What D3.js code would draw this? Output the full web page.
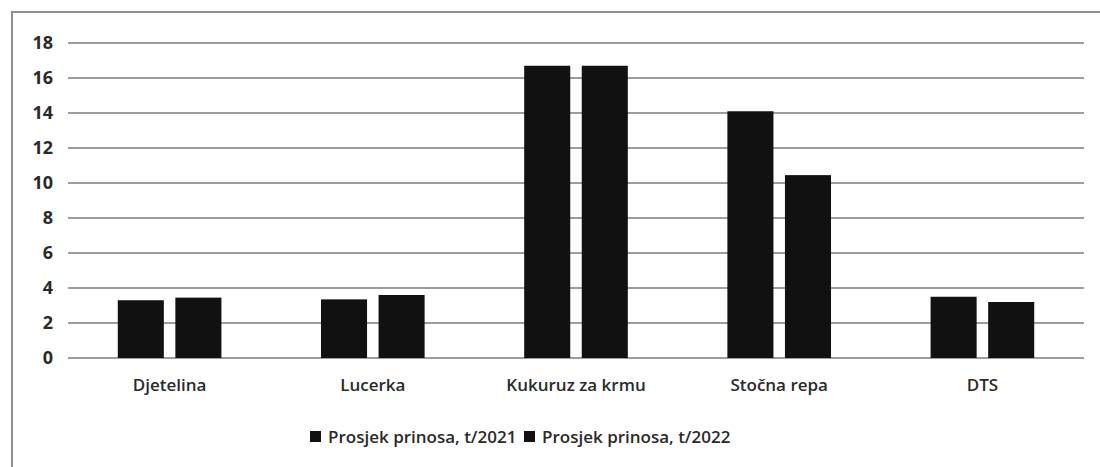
<!DOCTYPE html>
<html>
<head>
<meta charset="utf-8"/>
<title>Prosjek prinosa</title>
<script src="https://cdn.jsdelivr.net/npm/d3@7"></script>
<style>
	body { margin: 0; background: #fff; }
	svg { display: block; font-family: "Open Sans", "Liberation Sans", sans-serif; }
</style>
</head>
<body>
<svg id="chart" width="1100" height="467"></svg>
<script>
// data
var categories = ["Djetelina", "Lucerka", "Kukuruz za krmu", "Stočna repa", "DTS"];
var series = ["Prosjek prinosa, t/2021", "Prosjek prinosa, t/2022"];
var values2021 = [3.3, 3.35, 16.7, 14.1, 3.5];
var values2022 = [3.45, 3.6, 16.7, 10.45, 3.2];
var yTicks = [0, 2, 4, 6, 8, 10, 12, 14, 16, 18];

var svg = d3.select("#chart");

// scanned frame (right and bottom edges fall outside the picture)
svg.append("rect")
	.attr("x", 12).attr("y", 12)
	.attr("width", 1100).attr("height", 470)
	.attr("fill", "none")
	.attr("stroke", "#8f8f8f")
	.attr("stroke-width", 2);

var plotLeft = 68, plotRight = 1084, plotTop = 43, plotBottom = 358;

var x0 = d3.scaleBand().domain(categories).range([plotLeft, plotRight])
	.paddingInner(0.49).paddingOuter(0.245);
var x1 = d3.scaleBand().domain(series).range([0, x0.bandwidth()])
	.paddingInner(0.2);
var y = d3.scaleLinear().domain([0, 18]).range([plotBottom, plotTop]);

// grid lines
svg.append("g")
	.selectAll("line")
	.data(yTicks).enter()
	.append("line")
	.attr("x1", plotLeft).attr("x2", plotRight)
	.attr("y1", function(d) { return y(d); })
	.attr("y2", function(d) { return y(d); })
	.attr("stroke", "#7d7d7d")
	.attr("stroke-width", 1.6);

// y axis labels
var yAxis = svg.append("g")
	.attr("transform", "translate(" + (plotLeft - 15) + ",0)")
	.call(d3.axisLeft(y).tickValues(yTicks).tickSize(0).tickPadding(0));
yAxis.select(".domain").remove();
yAxis.selectAll("text")
	.attr("font-size", 18)
	.attr("font-weight", "bold")
	.attr("font-family", "Open Sans, sans-serif")
	.attr("fill", "#2a2a2a");

// bars
var rows = categories.map(function(c, i) {
	return { cat: c, vals: [values2021[i], values2022[i]] };
});
svg.append("g")
	.selectAll("g")
	.data(rows).enter()
	.append("g")
	.attr("transform", function(d) { return "translate(" + x0(d.cat) + ",0)"; })
	.selectAll("rect")
	.data(function(d) { return d.vals.map(function(v, j) { return { s: series[j], v: v }; }); })
	.enter()
	.append("rect")
	.attr("x", function(d) { return x1(d.s); })
	.attr("y", function(d) { return y(d.v); })
	.attr("width", x1.bandwidth())
	.attr("height", function(d) { return plotBottom - y(d.v); })
	.attr("fill", "#111");

// category labels
var xAxis = svg.append("g")
	.attr("transform", "translate(0," + (plotBottom + 21) + ")")
	.call(d3.axisBottom(x0).tickSize(0).tickPadding(0));
xAxis.select(".domain").remove();
xAxis.selectAll("text")
	.attr("font-size", 17)
	.attr("font-weight", 600)
	.attr("font-family", "Open Sans, sans-serif")
	.attr("fill", "#2a2a2a");

// legend
var legendX = [310, 524];
var legend = svg.append("g")
	.selectAll("g")
	.data(series).enter()
	.append("g")
	.attr("transform", function(d, i) { return "translate(" + legendX[i] + ",437)"; });
legend.append("rect")
	.attr("x", 0).attr("y", -6)
	.attr("width", 11).attr("height", 11)
	.attr("fill", "#111");
legend.append("text")
	.attr("x", 18).attr("y", 6)
	.attr("font-size", 17)
	.attr("font-weight", 600)
	.attr("fill", "#2a2a2a")
	.text(function(d) { return d; });
</script>
</body>
</html>
